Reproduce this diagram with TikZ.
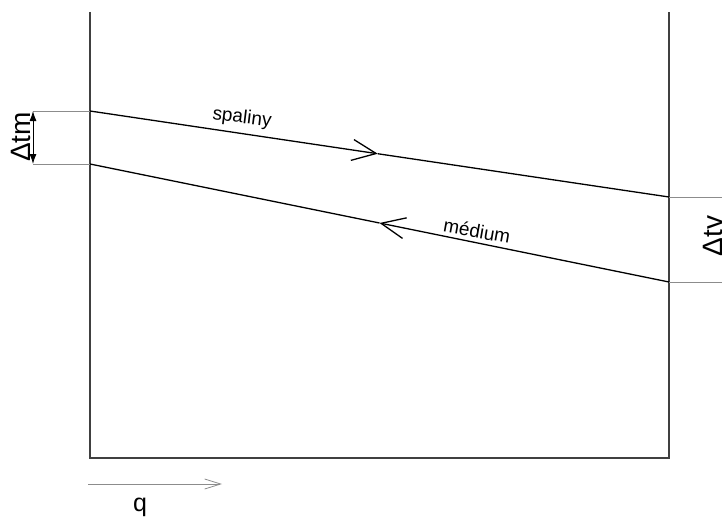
\documentclass[tikz,border=0pt]{standalone}
\usepackage{fontspec}
\setmainfont{Liberation Sans}
\usetikzlibrary{arrows.meta}

\tikzset{
  wall/.style={draw=black!75,line width=1.6pt},
  flow/.style={draw=black,line width=1.3pt},
  barb/.style={-{Straight Barb[length=24pt,width=21pt,line width=1.3pt]}},
  extline/.style={draw=black!45,line width=0.8pt},
  lbl/.style={font=\fontsize{19}{19}\selectfont,inner sep=0pt},
  dlbl/.style={font=\fontsize{28}{28}\selectfont,inner sep=0pt,rotate=90}
}

\begin{document}
\begin{tikzpicture}[x=1pt,y=-1pt]
                    \useasboundingbox (0,0) rectangle (722,519);

                    % stena vymeniku
                    \coordinate (lt) at (90,12);
                    \coordinate (lb) at (90,458);
                    \coordinate (rb) at (669,458);
                    \coordinate (rt) at (669,12);
                    \draw[wall] (lt) -- (lb) -- (rb) -- (rt);

                    % spaliny a medium
                    \coordinate (s1) at (90,111);
                    \coordinate (s2) at (669,197);
                    \coordinate (m1) at (90,164);
                    \coordinate (m2) at (669,282);
                    \path (s1) -- (s2) coordinate[pos=0.497] (sm);
                    \path (m1) -- (m2) coordinate[pos=0.5] (mm);

                    \draw[flow,barb] (s1) -- (sm);
                    \draw[flow] (sm) -- (s2);
                    \draw[flow,barb] (m2) -- (mm);
                    \draw[flow] (mm) -- (m1);

                    \node[lbl,rotate=-7] (spal) at (242,118) {spaliny};
                    \node[lbl,rotate=-10] (med) at (477,231) {médium};

                    % kota vlevo
                    \coordinate (a1) at (33,111);
                    \coordinate (a2) at (33,164);
                    \draw[extline] (a1) -- (s1);
                    \draw[extline] (a2) -- (m1);
                    \draw[line width=0.9pt,{Latex[length=10pt,width=7pt]}-{Latex[length=10pt,width=7pt]}] (a1) -- (a2);
                    \node[dlbl] (dtm) at (21,137) {Δtm};

                    % kota vpravo
                    \coordinate (b1) at (722,197);
                    \coordinate (b2) at (722,282);
                    \draw[extline] (s2) -- (b1);
                    \draw[extline] (m2) -- (b2);
                    \node[dlbl] (dtv) at (713,236) {Δtv};

                    % smer q
                    \coordinate (q1) at (88,484);
                    \coordinate (q2) at (222,484);
                    \draw[draw=black!45,line width=0.8pt,-{Straight Barb[length=16pt,width=10pt,line width=0.8pt]}] (q1) -- (q2);
                    \node[font=\fontsize{25}{25}\selectfont,inner sep=0pt] (q) at (140,507) {q};

                \end{tikzpicture}
\end{document}
